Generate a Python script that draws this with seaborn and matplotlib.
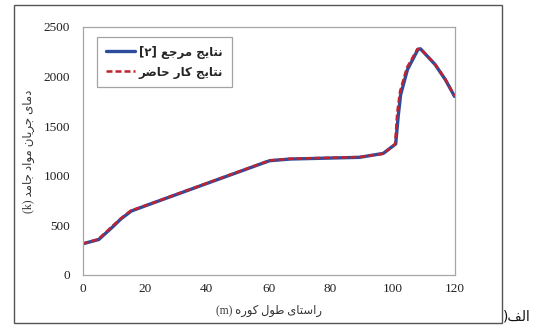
import matplotlib
matplotlib.use("Agg")
import matplotlib.pyplot as plt
import seaborn as sns
import pandas as pd
from matplotlib.patches import Rectangle
from matplotlib.lines import Line2D

# ---- data ----
x_ref = [0, 5.2, 9.6, 12.4, 15.7, 20.7, 40, 60.3, 67, 89.3, 97, 101, 101.8, 102.6, 104.8, 108.2, 109, 113.7, 117, 120]
y_ref = [314, 358, 483, 567, 645, 703, 922, 1152, 1169, 1186, 1226, 1321, 1598, 1818, 2071, 2274, 2280, 2122, 1970, 1800]
x_cur = [0, 5.0, 9.4, 12.3, 15.5, 20.7, 40, 60.3, 67, 89.3, 97, 100.8, 101.5, 102.4, 104.6, 108.0, 109, 113.7, 117, 120]
y_cur = [316, 360, 487, 570, 648, 705, 925, 1155, 1172, 1189, 1222, 1318, 1640, 1850, 2090, 2278, 2282, 2125, 1975, 1805]

x_ticks = [0, 20, 40, 60, 80, 100, 120]
y_ticks = [0, 500, 1000, 1500, 2000, 2500]

# ---- minimal Persian shaping (visual order, presentation forms) ----
FORMS = {
    '\u0627': ('\uFE8D', '\uFE8E', None, None),
    '\u0628': ('\uFE8F', '\uFE90', '\uFE91', '\uFE92'),
    '\u062A': ('\uFE95', '\uFE96', '\uFE97', '\uFE98'),
    '\u062C': ('\uFE9D', '\uFE9E', '\uFE9F', '\uFEA0'),
    '\u062D': ('\uFEA1', '\uFEA2', '\uFEA3', '\uFEA4'),
    '\u062F': ('\uFEA9', '\uFEAA', None, None),
    '\u0631': ('\uFEAD', '\uFEAE', None, None),
    '\u0633': ('\uFEB1', '\uFEB2', '\uFEB3', '\uFEB4'),
    '\u0636': ('\uFEBD', '\uFEBE', '\uFEBF', '\uFEC0'),
    '\u0637': ('\uFEC1', '\uFEC2', '\uFEC3', '\uFEC4'),
    '\u0639': ('\uFEC9', '\uFECA', '\uFECB', '\uFECC'),
    '\u0641': ('\uFED1', '\uFED2', '\uFED3', '\uFED4'),
    '\u0644': ('\uFEDD', '\uFEDE', '\uFEDF', '\uFEE0'),
    '\u0645': ('\uFEE1', '\uFEE2', '\uFEE3', '\uFEE4'),
    '\u0646': ('\uFEE5', '\uFEE6', '\uFEE7', '\uFEE8'),
    '\u0647': ('\uFEE9', '\uFEEA', '\uFEEB', '\uFEEC'),
    '\u0648': ('\uFEED', '\uFEEE', None, None),
    '\u06A9': ('\uFB8E', '\uFB8F', '\uFB90', '\uFB91'),
    '\u06CC': ('\uFBFC', '\uFBFD', '\uFBFE', '\uFBFF'),
}


def shape_word(w):
    out = []
    for i, c in enumerate(w):
        if c not in FORMS:
            out.append(c)
            continue
        prev = w[i - 1] if i > 0 else None
        nxt = w[i + 1] if i + 1 < len(w) else None
        jp = prev in FORMS and FORMS[prev][2] is not None
        jn = nxt in FORMS and FORMS[c][2] is not None
        iso, fin, ini, med = FORMS[c]
        if jp and jn:
            out.append(med)
        elif jp:
            out.append(fin)
        elif jn:
            out.append(ini)
        else:
            out.append(iso)
    return ''.join(out)[::-1]


def rtl(text):
    toks = text.split(' ')
    vis = []
    for t in reversed(toks):
        if any(ch in FORMS for ch in t):
            vis.append(shape_word(t))
        else:
            vis.append(t)
    return ' '.join(vis)


label_ref = "نتایج مرجع [۲]"
label_cur = "نتایج کار حاضر"
x_label = "راستای طول کوره (m)"
y_label = "دمای جریان مواد جامد (k)"
panel = "الف"

# ---- plot ----
sns.set_style("white")
plt.rcParams['font.family'] = ['Liberation Serif', 'DejaVu Sans']

fig = plt.figure(figsize=(5.37, 3.28), dpi=100)
ax = fig.add_axes([0.154, 0.1616, 0.6925, 0.7561])

blue = '#2d4c9c'
red = '#c0232f'
df_ref = pd.DataFrame({'x': x_ref, 'y': y_ref})
df_cur = pd.DataFrame({'x': x_cur, 'y': y_cur})
sns.lineplot(data=df_ref, x='x', y='y', ax=ax, color=blue, lw=2.4, sort=False)
sns.lineplot(data=df_cur, x='x', y='y', ax=ax, color=red, lw=1.8,
             linestyle=(0, (2.4, 1.2)), sort=False)

ax.set_xlim(0, 120)
ax.set_ylim(0, 2500)
ax.set_xticks(x_ticks)
ax.set_yticks(y_ticks)
ax.set_xticklabels([str(v) for v in x_ticks])
ax.set_yticklabels([str(v) for v in y_ticks])
for s in ax.spines.values():
    s.set_color('#a6a6a6')
    s.set_linewidth(0.9)
ax.tick_params(axis='y', direction='out', length=4, width=0.9, color='#a6a6a6',
               labelsize=9.5, pad=5, labelcolor='#222222')
ax.tick_params(axis='x', direction='inout', length=5, width=0.9, color='#a6a6a6',
               labelsize=9.5, pad=3, labelcolor='#222222')

ax.set_xlabel(rtl(x_label), fontsize=8.3, color='#333333', labelpad=7,
              family=['Liberation Serif', 'DejaVu Sans'])
ax.set_ylabel(rtl(y_label), fontsize=8.5, color='#333333', labelpad=6,
              family=['Liberation Serif', 'DejaVu Sans'])

handles = [Line2D([], [], color=blue, lw=2.4),
           Line2D([], [], color=red, lw=1.8, linestyle=(0, (2.4, 1.2)))]
leg = ax.legend(handles, [rtl(label_ref), rtl(label_cur)], loc='upper left',
                bbox_to_anchor=(0.0385, 0.961), borderaxespad=0,
                frameon=True, fancybox=False, edgecolor='#8c8c8c',
                handlelength=2.5, handletextpad=0.3, labelspacing=0.6,
                borderpad=0.75,
                prop={'family': ['DejaVu Sans'], 'weight': 'bold', 'size': 8.5})
leg.get_frame().set_linewidth(0.9)

# outer frame and panel label
fig.patches.append(Rectangle((14 / 537, 5 / 328), 488 / 537, 318 / 328,
                             transform=fig.transFigure, fill=False,
                             edgecolor='#555555', lw=1.0))
fig.text(503 / 537, 1 - 316 / 328, ')' + shape_word(panel), fontsize=10,
         family=['DejaVu Sans'], ha='left', va='center', color='#111111')

fig.savefig('out.png', dpi=100)
